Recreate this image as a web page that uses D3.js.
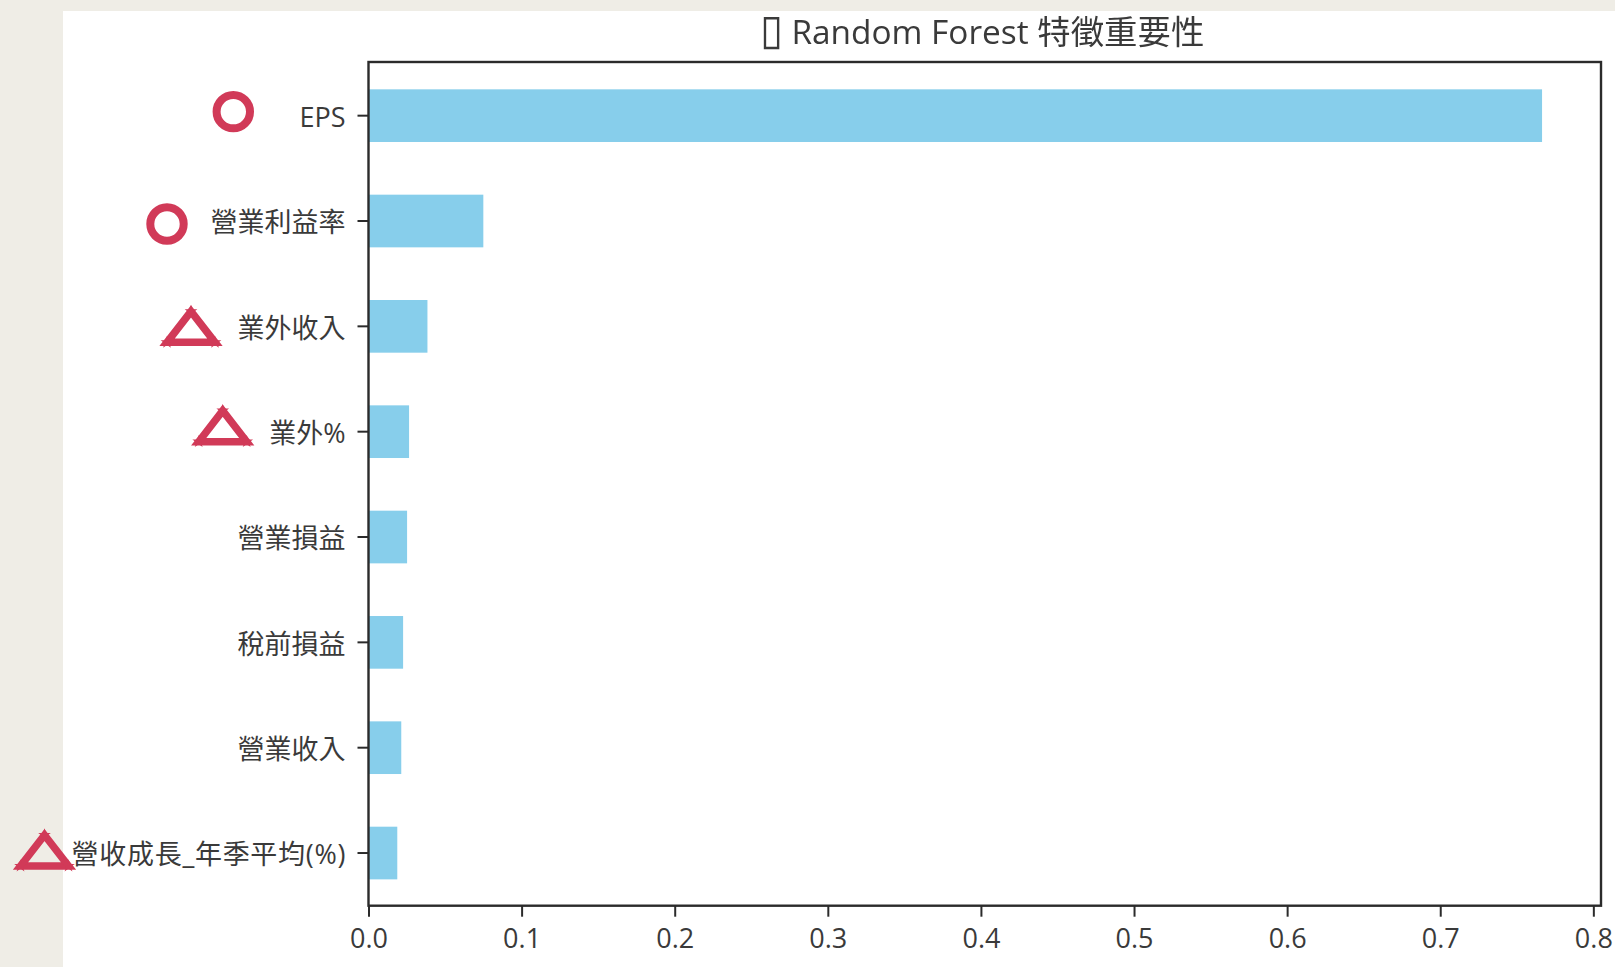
<!DOCTYPE html>
<html>
<head>
<meta charset="utf-8">
<script src="https://cdn.jsdelivr.net/npm/d3@7"></script>
<style>
  html, body { margin: 0; padding: 0; background: #efede6; overflow: hidden; }
  text { font-family: "Open Sans", "Noto Sans CJK TC", sans-serif; fill: #3a3a3a; }
</style>
</head>
<body>
<script>
var titleBox = '▯';
var titleText = 'Random Forest 特徵重要性';
var features = ['EPS', '營業利益率', '業外收入', '業外%', '營業損益', '稅前損益', '營業收入', '營收成長_年季平均(%)'];
var importances = [0.7665, 0.075, 0.0385, 0.0265, 0.0252, 0.0226, 0.0214, 0.0188];
var xTicks = [0, 0.1, 0.2, 0.3, 0.4, 0.5, 0.6, 0.7, 0.8];
var xMax = 0.805;
var circledFeatures = ['EPS', '營業利益率'];
var triangledFeatures = ['業外收入', '業外%', '營收成長_年季平均(%)'];

var svgWidth = 1615;
var svgHeight = 967;
var plotLeft = 368.5, plotRight = 1601, plotTop = 62, plotBottom = 905.7;
var red = '#d13a58';

var svg = d3.select('body').append('svg')
  .attr('width', svgWidth)
  .attr('height', svgHeight)
  .style('display', 'block')
  .style('filter', 'blur(0.5px)');

// white sheet on top of the beige slide
svg.append('rect')
  .attr('x', 63).attr('y', 11)
  .attr('width', svgWidth - 63 + 5).attr('height', svgHeight - 11 + 5)
  .attr('fill', '#fff');

var xScale = d3.scaleLinear().domain([0, xMax]).range([plotLeft, plotRight]);
var yScale = d3.scaleBand().domain(features).range([plotTop + 1, plotBottom])
  .paddingInner(0.5).paddingOuter(0.25);

svg.selectAll('.bar')
  .data(features)
  .enter()
  .append('rect')
    .attr('class', 'bar')
    .attr('x', xScale(0))
    .attr('y', function(d) { return yScale(d); })
    .attr('width', function(d, i) { return xScale(importances[i]) - xScale(0); })
    .attr('height', yScale.bandwidth())
    .attr('fill', '#87ceeb');

var xAxis = d3.axisBottom(xScale).tickValues(xTicks).tickFormat(d3.format('.1f')).tickSize(11).tickPadding(12);
var yAxis = d3.axisLeft(yScale).tickSize(11).tickPadding(12);

var gx = svg.append('g').attr('transform', 'translate(0,' + plotBottom + ')').call(xAxis);
var gy = svg.append('g').attr('transform', 'translate(' + plotLeft + ',0)').call(yAxis);

[gx, gy].forEach(function(g) {
  g.select('.domain').remove();
  g.selectAll('line').attr('stroke', '#2b2b2b').attr('stroke-width', 2);
  g.selectAll('text').attr('font-size', 27).attr('fill', '#3a3a3a')
    .style('font-family', '"Open Sans", "Noto Sans CJK TC", sans-serif');
});

// labels sit a little under the tick in the original
gy.selectAll('text').attr('dy', '0.42em');
gy.selectAll('text')
  .filter(function(d) { return d === '營收成長_年季平均(%)'; })
  .attr('textLength', 274)
  .attr('lengthAdjust', 'spacing');

svg.append('rect')
  .attr('x', plotLeft).attr('y', plotTop)
  .attr('width', plotRight - plotLeft).attr('height', plotBottom - plotTop)
  .attr('fill', 'none')
  .attr('stroke', '#2b2b2b')
  .attr('stroke-width', 2.4);

var title = svg.append('text')
  .attr('x', 982)
  .attr('y', 44)
  .attr('text-anchor', 'middle')
  .attr('font-size', 33.4);
title.append('tspan').attr('font-size', 42).text(titleBox);
title.append('tspan').text(' ' + titleText);

// hand drawn marks next to the labels, placed by eye from each row
function rowY(name) { return yScale(name) + yScale.bandwidth() / 2; }

var circleX = {'EPS': 233.3, '營業利益率': 167};
var circleDy = {'EPS': -4, '營業利益率': 3};

svg.selectAll('.ring')
  .data(circledFeatures)
  .enter()
  .append('circle')
    .attr('class', 'ring')
    .attr('cx', function(d) { return circleX[d]; })
    .attr('cy', function(d) { return rowY(d) + circleDy[d]; })
    .attr('r', 16.7)
    .attr('fill', 'none')
    .attr('stroke', red)
    .attr('stroke-width', 8);

var triX = {'業外收入': 191, '業外%': 222.7, '營收成長_年季平均(%)': 44.5};
var triDy = {'業外收入': 16, '業外%': 10, '營收成長_年季平均(%)': 13};
var triLine = d3.line();
var star = d3.symbol().type(d3.symbolStar).size(50);

var tri = svg.selectAll('.tri')
  .data(triangledFeatures)
  .enter()
  .append('g')
    .attr('class', 'tri')
    .attr('transform', function(d) {
      return 'translate(' + triX[d] + ',' + (rowY(d) + triDy[d]) + ')';
    });

tri.append('path')
  .attr('d', triLine([[-24, 0], [0, -31], [24, 0]]) + 'Z')
  .attr('fill', 'none')
  .attr('stroke', red)
  .attr('stroke-width', 7.5);

[[-24, 0], [24, 0], [0, -31]].forEach(function(p) {
  tri.append('path')
    .attr('d', star())
    .attr('transform', 'translate(' + p[0] + ',' + p[1] + ')')
    .attr('fill', red);
});
</script>
</body>
</html>
